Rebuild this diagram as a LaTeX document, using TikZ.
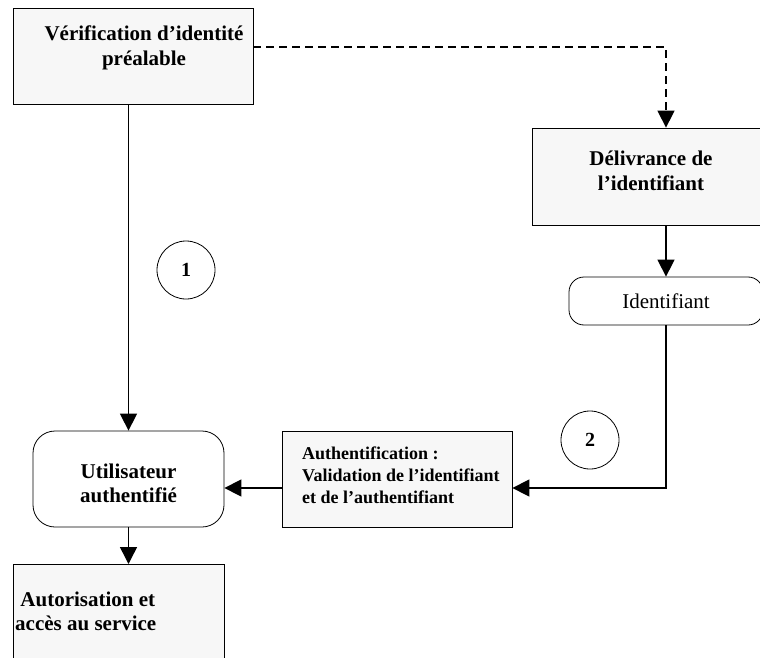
\documentclass[tikz,border=0pt]{standalone}
\usepackage{fontspec}
\setmainfont{Liberation Serif}
\usetikzlibrary{arrows.meta}
\definecolor{boxfill}{HTML}{F7F7F7}
\begin{document}
\begin{tikzpicture}[x=1pt,y=-1pt,
  boxnode/.style={draw, fill=boxfill, line width=0.8pt, inner sep=0pt},
  roundnode/.style={draw, fill=white, line width=0.8pt, inner sep=0pt},
  bigtxt/.style={font=\fontsize{21}{24.5}\selectfont\bfseries, inner sep=0pt},
  smalltxt/.style={font=\fontsize{18}{22}\selectfont\bfseries, inner sep=0pt},
  conn/.style={line width=1.5pt, -{Triangle[length=17pt,width=17pt]}},
  numcircle/.style={draw, circle, line width=0.8pt, minimum size=58pt, inner sep=0pt,
    font=\fontsize{20}{24}\selectfont\bfseries}
]
\useasboundingbox (0,0) rectangle (760,658);
\clip (0,0) rectangle (760,658);

% boxes
\node[boxnode, minimum width=240pt, minimum height=96pt] (v) at (133,56) {};
\node[bigtxt, align=center] (vt) at (144,48) {Vérification d’identité\\préalable};

\node[boxnode, minimum width=268pt, minimum height=97pt] (d) at (666,176.5) {};
\node[bigtxt, align=center] (dt) at (651,171) {Délivrance de\\l’identifiant};

\node[roundnode, rounded corners=15pt, minimum width=194pt, minimum height=48pt,
  font=\fontsize{21}{24}\selectfont] (i) at (666,301) {Identifiant};

\node[boxnode, minimum width=230pt, minimum height=96pt] (a) at (397,479) {};
\node[smalltxt, align=left, anchor=west] (at) at (302,475) {Authentification :\\Validation de l’identifiant\\et de l’authentifiant};

\node[roundnode, rounded corners=22pt, minimum width=191pt, minimum height=96pt] (u) at (128.5,479) {};
\node[bigtxt, align=center] (ut) at (128.5,483.5) {Utilisateur\\authentifié};

\node[boxnode, minimum width=211pt, minimum height=130pt, anchor=north west] (z) at (13,564) {};
\node[bigtxt, align=left, anchor=west] (zt) at (15,611.5) {\ Autorisation et\\accès au service};

% circles
\node[numcircle] (n1) at (186,270) {1};
\node[numcircle] (n2) at (590,440) {2};

% connectors
\coordinate (dk) at (666,47);
\coordinate (c2) at (666,488);
\draw[line width=1.5pt, dash pattern=on 8pt off 5pt, -{Triangle[length=17pt,width=17pt]}]
  (v.east |- dk) -- (dk) -- (d.north);
\draw[conn] (v.south -| u.north) -- (u.north);
\draw[conn] (d.south) -- (i.north);
\draw[line width=1.5pt, -{Triangle[length=17pt,width=17pt]}] (i.south) -- (c2) -- (a.east |- c2);
\draw[conn] (a.west |- c2) -- (u.east |- c2);
\draw[conn] (u.south) -- (u.south |- z.north);
\end{tikzpicture}
\end{document}
